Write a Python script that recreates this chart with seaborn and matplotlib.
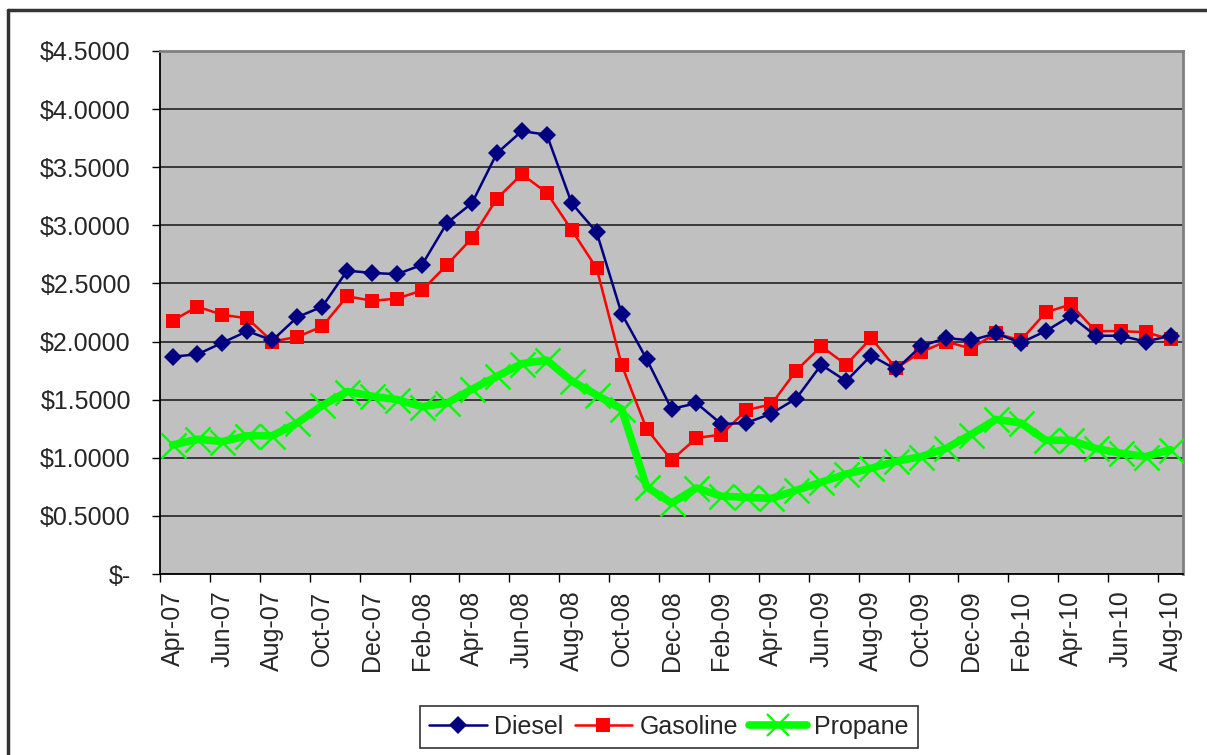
import numpy as np
import pandas as pd
import matplotlib
matplotlib.use("Agg")
import matplotlib.pyplot as plt
import seaborn as sns
from matplotlib.lines import Line2D

# ---------------- data ----------------
months = ['Apr-07', 'May-07', 'Jun-07', 'Jul-07', 'Aug-07', 'Sep-07', 'Oct-07', 'Nov-07',
          'Dec-07', 'Jan-08', 'Feb-08', 'Mar-08', 'Apr-08', 'May-08', 'Jun-08', 'Jul-08',
          'Aug-08', 'Sep-08', 'Oct-08', 'Nov-08', 'Dec-08', 'Jan-09', 'Feb-09', 'Mar-09',
          'Apr-09', 'May-09', 'Jun-09', 'Jul-09', 'Aug-09', 'Sep-09', 'Oct-09', 'Nov-09',
          'Dec-09', 'Jan-10', 'Feb-10', 'Mar-10', 'Apr-10', 'May-10', 'Jun-10', 'Jul-10',
          'Aug-10']

diesel = [1.87, 1.89, 1.99, 2.09, 2.01, 2.21, 2.30, 2.61, 2.59, 2.58, 2.66, 3.02,
          3.19, 3.62, 3.81, 3.78, 3.19, 2.94, 2.24, 1.85, 1.42, 1.47, 1.29, 1.30,
          1.38, 1.51, 1.80, 1.66, 1.88, 1.76, 1.96, 2.03, 2.01, 2.07, 1.99, 2.09,
          2.22, 2.05, 2.05, 2.00, 2.05]

gasoline = [2.18, 2.30, 2.23, 2.20, 2.00, 2.04, 2.13, 2.39, 2.35, 2.37, 2.44, 2.66,
            2.89, 3.23, 3.44, 3.28, 2.96, 2.63, 1.80, 1.25, 0.98, 1.17, 1.20, 1.41,
            1.46, 1.75, 1.96, 1.80, 2.03, 1.77, 1.91, 2.00, 1.94, 2.07, 2.01, 2.25,
            2.32, 2.09, 2.09, 2.08, 2.02]

propane = [1.11, 1.16, 1.14, 1.19, 1.19, 1.30, 1.45, 1.57, 1.53, 1.50, 1.44, 1.47,
           1.59, 1.70, 1.81, 1.84, 1.66, 1.54, 1.42, 0.75, 0.61, 0.74, 0.67, 0.66,
           0.65, 0.72, 0.79, 0.86, 0.91, 0.97, 1.01, 1.08, 1.20, 1.33, 1.30, 1.15,
           1.15, 1.08, 1.04, 1.01, 1.07]

df = pd.DataFrame({'idx': np.arange(len(months)), 'Month': months,
                   'Diesel': diesel, 'Gasoline': gasoline, 'Propane': propane})

# ---------------- figure ----------------
sns.set_style("white")
plt.rcParams['font.family'] = ['Liberation Sans', 'DejaVu Sans']

fig = plt.figure(figsize=(12.07, 7.55), dpi=100)
ax = fig.add_axes([0.1326, 0.2397, 0.9801 - 0.1326, 0.9325 - 0.2397])
ax.set_facecolor('#C0C0C0')

# outer chart border (only top and left visible in the reference)
fig.add_artist(Line2D([8 / 1207, 8 / 1207], [0, 1 - 10 / 755], transform=fig.transFigure,
                      color='#333333', lw=2.5))
fig.add_artist(Line2D([8 / 1207, 1], [1 - 10 / 755, 1 - 10 / 755], transform=fig.transFigure,
                      color='#333333', lw=2.5))

sns.lineplot(data=df, x='idx', y='Propane', ax=ax, color='#00FF00', lw=5.5,
             marker='x', markersize=18, markeredgewidth=1.8, markeredgecolor='#00FF00',
             zorder=3)
sns.lineplot(data=df, x='idx', y='Gasoline', ax=ax, color='#FF0000', lw=1.8,
             marker='s', markersize=10, markeredgewidth=0, zorder=4)
sns.lineplot(data=df, x='idx', y='Diesel', ax=ax, color='#000080', lw=1.8,
             marker='D', markersize=9, markeredgewidth=0, zorder=5)

# axes ranges
ax.set_xlim(-0.5, len(months) - 0.5)
ax.set_ylim(0, 4.5)

# y axis
yt = np.arange(0, 4.51, 0.5)
ax.set_yticks(yt)
ax.set_yticklabels(['$-' if v == 0 else f'${v:.4f}' for v in yt])
ax.yaxis.grid(True, color='#222222', lw=1.2)
ax.xaxis.grid(False)
ax.tick_params(axis='y', which='major', length=6, width=1, direction='out',
               labelsize=18, pad=15, left=True, color='black')

# x axis: labels every 2nd month, ticks on category boundaries
ax.set_xticks(df['idx'][::2])
ax.set_xticklabels(df['Month'][::2], rotation=90)
ax.set_xticks(np.arange(-0.5, len(months) - 1, 2), minor=True)
ax.tick_params(axis='x', which='major', length=0, labelsize=18, pad=12)
ax.tick_params(axis='x', which='minor', length=6, width=1, direction='out',
               bottom=True, color='black')
ax.set_xlabel('')
ax.set_ylabel('')

for side in ['left', 'bottom']:
    ax.spines[side].set_color('black')
    ax.spines[side].set_linewidth(1.3)
for side in ['top', 'right']:
    ax.spines[side].set_color('#808080')
    ax.spines[side].set_linewidth(2)

# legend
handles = [
    Line2D([], [], color='#000080', lw=1.8, marker='D', markersize=9, markeredgewidth=0),
    Line2D([], [], color='#FF0000', lw=1.8, marker='s', markersize=10, markeredgewidth=0),
    Line2D([], [], color='#00FF00', lw=5.5, marker='x', markersize=16, markeredgewidth=1.6),
]
leg = fig.legend(handles, ['Diesel', 'Gasoline', 'Propane'], loc='center',
                 bbox_to_anchor=(669 / 1207, 1 - 727 / 755), ncol=3, fontsize=18,
                 frameon=True, fancybox=False, shadow=False, handlelength=2.3,
                 handletextpad=0.3, columnspacing=0.45, borderpad=0.35)
leg.get_frame().set_edgecolor('black')
leg.get_frame().set_linewidth(1.2)

fig.savefig('out.png', dpi=100)
